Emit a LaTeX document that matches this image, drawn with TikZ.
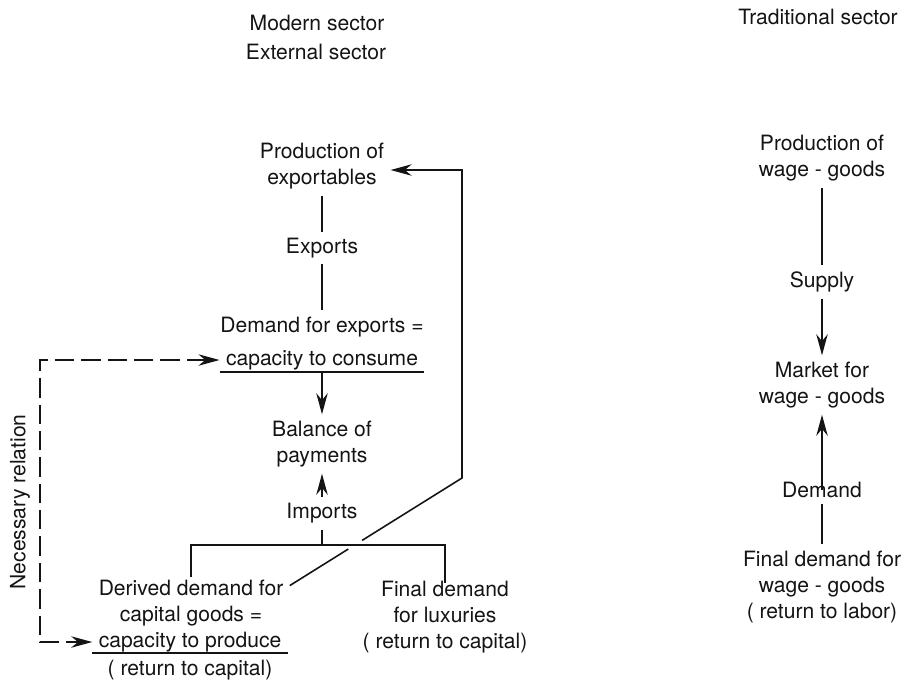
\documentclass[tikz,border=0pt]{standalone}
\usepackage{fontspec}
\setmainfont{TeX Gyre Heros}
\usepackage{tikz}
\usetikzlibrary{
  arrows.meta,
  calc
}
\usepackage{xcolor}
\definecolor{inkclr}{RGB}{20, 20, 20}
\tikzset{
  % Matn tugunlari
  lab/.style       = {font=\fontsize{12}{15}\selectfont, align=center, inner sep=3.5pt, text=inkclr},
  % Chiziqlar
  flowline/.style  = {line width=0.9pt, draw=inkclr},
  flowarrow/.style = {flowline, -{Stealth[length=12pt, width=6.5pt]}},
  % Zaruriy bog'lanish (uzuq chiziq)
  relline/.style   = {flowline, dash pattern=on 11pt off 4pt,
                      {Stealth[length=12pt, width=6.5pt]}-{Stealth[length=12pt, width=6.5pt]}},
}

\begin{document}
\begin{tikzpicture}[x=0.02cm, y=-0.02cm]
  \useasboundingbox (0,0) rectangle (919,681);
  % Sarlavhalar
  \node[lab] (mod)  at (317,23) {Modern sector};
  \node[lab] (ext)  at (316,52) {External sector};
  \node[lab] (trad) at (818,17) {Traditional sector};
  % Tashqi sektor
  \node[lab] (prodexp) at (322,166) {Production of\\exportables};
  \node[lab] (exports) at (322,248) {Exports};
  \node[lab] (dexpA)   at (322,327) {Demand for exports =};
  \node[lab] (dexpB)   at (322,360) {capacity to consume};
  \node[lab] (bop)     at (322,444) {Balance of\\payments};
  \node[lab] (imports) at (322,513) {Imports};
  \node[lab] (derived) at (191,603) {Derived demand for\\capital goods =};
  \node[lab] (cprod)   at (190,642) {capacity to produce};
  \node[lab] (retcap)  at (190,670) {( return to capital)};
  \node[lab] (luxury)  at (445,617) {Final demand\\for luxuries\\( return to capital)};
  \node[lab, rotate=90] (nrel) at (20,502) {Necessary relation};
  % An'anaviy sektor
  \node[lab] (prodwg) at (822,158) {Production of\\wage - goods};
  \node[lab] (supply) at (822,282) {Supply};
  \node[lab] (market) at (822,385) {Market for\\wage - goods};
  \node[lab] (demand) at (822,490) {Demand};
  \node[lab] (finwg)  at (822,587) {Final demand for\\wage - goods\\( return to labor)};
  % Yordamchi nuqtalar
  \coordinate (brM)   at (322,545);
  \coordinate (fbk)   at (462,478);
  \coordinate (fbtop) at (462,170);
  \coordinate (dL)    at (40,500);
  % Tagiga chizish
  \draw[flowline] ([yshift=2.5pt]dexpB.south west) -- ([yshift=2.5pt]dexpB.south east);
  \draw[flowline] ([yshift=3pt]cprod.south west) -- ([yshift=3pt]cprod.south east);
  % Bog'lovchi chiziqlar (chap)
  \draw[flowline] (prodexp) -- (exports);
  \draw[flowline] (exports) -- (dexpA);
  \draw[flowarrow] ([yshift=2.5pt]dexpB.south) -- (bop);
  \draw[flowarrow] (imports) -- (bop);
  \draw[flowline] (imports) -- (brM);
  \draw[flowline, shorten <=-2pt, shorten >=-5pt] (derived.north) |- (brM) -| (luxury.north);
  \draw[flowline] (derived.10) -- ($(derived.10)!0.34!(fbk)$);
  \draw[flowarrow] ($(derived.10)!0.42!(fbk)$) -- (fbk) -- (fbtop) -- (fbtop -| prodexp.east);
  \draw[relline] (dexpB.west) -| (dL) |- (cprod.west);
  % Bog'lovchi chiziqlar (o'ng)
  \draw[flowline] (prodwg) -- (supply);
  \draw[flowarrow] (supply) -- (market);
  \draw[flowarrow, shorten <=-8pt] (demand) -- (market);
  \draw[flowline] (demand) -- (finwg);
\end{tikzpicture}
\end{document}
